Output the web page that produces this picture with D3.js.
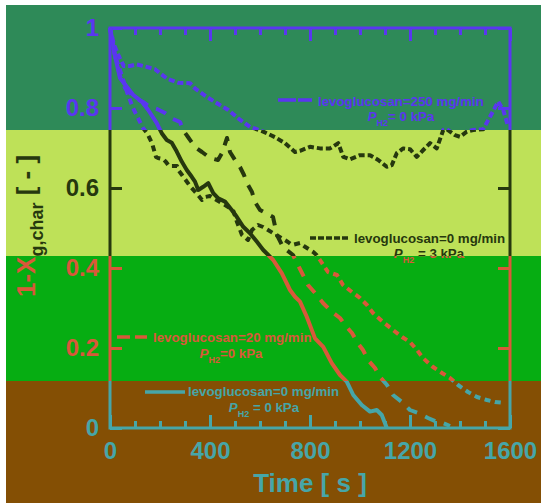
<!DOCTYPE html>
<html>
<head>
<meta charset="utf-8">
<script src="https://cdn.jsdelivr.net/npm/d3@7"></script>
<style>
  body { margin: 0; background: #fff; }
  svg { display: block; font-family: "Liberation Sans", Arial, sans-serif; }
</style>
</head>
<body>
<svg id="chart" width="541" height="503"></svg>
<script>
// 1 - X_g,char versus time [s]
var tLev0 = [0, 20, 40, 67, 93, 127, 153, 187, 207, 227, 247, 267, 287, 307, 327, 340, 353, 373, 393, 413, 433, 460, 487, 507, 533, 560, 587, 613, 633, 653, 687, 720, 740, 760, 787, 820, 853, 887, 920, 947, 973, 1007, 1040, 1067, 1087, 1100, 1107];
var yLev0 = [1, 0.93, 0.875, 0.853, 0.8325, 0.816, 0.795, 0.762, 0.737, 0.72, 0.713, 0.691, 0.666, 0.645, 0.628, 0.616, 0.595, 0.603, 0.612, 0.587, 0.574, 0.566, 0.545, 0.528, 0.503, 0.487, 0.466, 0.445, 0.4325, 0.42, 0.387, 0.345, 0.328, 0.316, 0.278, 0.224, 0.203, 0.162, 0.1325, 0.116, 0.0825, 0.0575, 0.041, 0.045, 0.0325, 0.012, 0];

var tLev20 = [0, 20, 40, 60, 100, 132, 160, 188, 220, 252, 280, 292, 312, 340, 368, 400, 432, 448, 468, 480, 500, 520, 536, 548, 568, 580, 600, 652, 668, 692, 732, 792, 820, 852, 888, 920, 940, 968, 988, 1012, 1032, 1060, 1080, 1108, 1132, 1168, 1200, 1232, 1272, 1308, 1332, 1360];
var yLev20 = [1, 0.93, 0.88, 0.85, 0.825, 0.815, 0.8025, 0.7975, 0.7875, 0.7725, 0.765, 0.745, 0.7275, 0.7025, 0.69, 0.675, 0.67, 0.6875, 0.725, 0.69, 0.67, 0.6525, 0.6325, 0.6125, 0.59, 0.565, 0.545, 0.5275, 0.4825, 0.4525, 0.4325, 0.3575, 0.3375, 0.3125, 0.29, 0.275, 0.2575, 0.2375, 0.215, 0.195, 0.17, 0.15, 0.1275, 0.1075, 0.0825, 0.065, 0.045, 0.0375, 0.025, 0.015, 0.0125, 0.005];

var tH3 = [0, 20, 40, 68, 92, 132, 148, 156, 168, 184, 192, 212, 224, 236, 268, 276, 288, 320, 352, 368, 380, 400, 440, 492, 508, 528, 552, 568, 592, 612, 712, 728, 760, 780, 813, 827, 840, 872, 908, 932, 968, 1000, 1028, 1052, 1092, 1132, 1168, 1200, 1228, 1252, 1292, 1328, 1360, 1392, 1432, 1468, 1508, 1540, 1580];
var yH3 = [1, 0.93, 0.895, 0.84, 0.8, 0.75, 0.7375, 0.7275, 0.7125, 0.6775, 0.675, 0.6725, 0.665, 0.655, 0.655, 0.6425, 0.6325, 0.605, 0.5825, 0.57, 0.5775, 0.58, 0.565, 0.545, 0.515, 0.4825, 0.47, 0.495, 0.5075, 0.5025, 0.465, 0.4575, 0.4625, 0.453, 0.44, 0.432, 0.42, 0.39, 0.3825, 0.3575, 0.34, 0.325, 0.3075, 0.2875, 0.265, 0.245, 0.2275, 0.215, 0.195, 0.175, 0.1525, 0.1375, 0.125, 0.1075, 0.09, 0.0775, 0.07, 0.065, 0.0625];

var tLev250 = [0, 15, 35, 55, 80, 107, 133, 180, 200, 227, 273, 320, 340, 387, 433, 473, 513, 560, 613, 660, 700, 740, 760, 800, 840, 880, 913, 933, 960, 1000, 1040, 1073, 1107, 1127, 1147, 1173, 1200, 1227, 1253, 1280, 1307, 1333, 1347, 1380, 1400, 1427, 1453, 1493, 1520, 1553, 1573, 1593];
var yLev250 = [1, 0.96, 0.93, 0.905, 0.905, 0.909, 0.905, 0.897, 0.887, 0.874, 0.863, 0.862, 0.849, 0.828, 0.81, 0.795, 0.774, 0.753, 0.741, 0.727, 0.712, 0.69, 0.693, 0.703, 0.699, 0.699, 0.712, 0.678, 0.672, 0.682, 0.682, 0.67, 0.653, 0.657, 0.687, 0.699, 0.697, 0.678, 0.695, 0.712, 0.699, 0.745, 0.747, 0.732, 0.728, 0.741, 0.745, 0.747, 0.778, 0.816, 0.795, 0.753];

var xMajor = [0, 400, 800, 1200, 1600];
var yMajor = [0, 0.2, 0.4, 0.6, 0.8, 1];
var legendNames = ["levoglucosan=250 mg/min", "levoglucosan=0 mg/min", "levoglucosan=20 mg/min", "levoglucosan=0 mg/min"];
var legendPressure = ["= 0 kPa", " = 3 kPa", "=0 kPa", " = 0 kPa"];

var margin = {left: 110, top: 28}, W = 400, H = 400;
var x = d3.scaleLinear().domain([0, 1600]).range([0, W]);
var y = d3.scaleLinear().domain([0, 1]).range([H, 0]);

// horizontal colour bands: background and the colour everything takes inside them
var bandEdges = [5, 130, 256, 381, 503];
var bandBg = ["#2e8a58", "#bee158", "#06ad12", "#844f04"];
var bandFg = ["#5a36f0", "#26380e", "#d9583a", "#46a6a8"];

var series = [
  {t: tLev250, v: yLev250, dash: "6,3"},
  {t: tH3, v: yH3, dash: "6,4.5"},
  {t: tLev20, v: yLev20, dash: "11,9"},
  {t: tLev0, v: yLev0, dash: null}
];
var legendPos = [
  {x0: 278, x1: 312, ly: 100, tx: 318, ty: 106, cx: 401, py: 121, dash: "18,2"},
  {x0: 310, x1: 350, ly: 238, tx: 354, ty: 243, cx: 429, py: 258, dash: "6,2"},
  {x0: 117, x1: 147, ly: 337, tx: 153, ty: 342, cx: 231, py: 358, dash: "13,5"},
  {x0: 145, x1: 185, ly: 392, tx: 188, ty: 396, cx: 264, py: 412, dash: null}
];

var svg = d3.select("#chart");
svg.append("rect").attr("width", 541).attr("height", 503).attr("fill", "#fff");
var defs = svg.append("defs");

bandBg.forEach(function (c, i) {
  svg.append("rect")
      .attr("x", 6).attr("y", bandEdges[i])
      .attr("width", 535).attr("height", bandEdges[i + 1] - bandEdges[i])
      .attr("fill", c);
  defs.append("clipPath").attr("id", "band" + i)
    .append("rect")
      .attr("x", 0).attr("y", i === 0 ? 0 : bandEdges[i])
      .attr("width", 541).attr("height", bandEdges[i + 1] - (i === 0 ? 0 : bandEdges[i]));
});

var line = d3.line()
    .x(function (d) { return x(d[0]); })
    .y(function (d) { return y(d[1]); });

function styleAxis(sel) {
  sel.select(".domain").remove();
  sel.selectAll("line").attr("stroke-width", 3);
  sel.selectAll("text")
      .attr("font-size", 24)
      .attr("font-weight", "bold")
      .attr("font-family", "Liberation Sans, Arial, sans-serif");
}

function drawLayer(layer) {
  var g = layer.append("g").attr("transform", "translate(" + margin.left + "," + margin.top + ")");

  var xMinor = d3.range(100, 1600, 100).filter(function (v) { return v % 400 !== 0; });
  g.append("g").attr("transform", "translate(0," + H + ")")
      .call(d3.axisBottom(x).tickValues(xMinor).tickSize(-7).tickSizeOuter(0).tickFormat(""))
      .call(styleAxis);
  g.append("g").attr("transform", "translate(0," + H + ")")
      .call(d3.axisBottom(x).tickValues(xMajor).tickSize(-13).tickSizeOuter(0).tickPadding(14)
        .tickFormat(d3.format("d")))
      .call(styleAxis);
  g.append("g")
      .call(d3.axisTop(x).tickValues(xMinor).tickSize(-7).tickSizeOuter(0).tickFormat(""))
      .call(styleAxis);
  g.append("g")
      .call(d3.axisTop(x).tickValues(xMajor).tickSize(-13).tickSizeOuter(0).tickFormat(""))
      .call(styleAxis);
  g.append("g")
      .call(d3.axisLeft(y).tickValues(yMajor).tickSize(-12).tickSizeOuter(0).tickPadding(11)
        .tickFormat(function (d) { return (d === 0 || d === 1) ? d : d.toFixed(1); }))
      .call(styleAxis);
  g.append("g").attr("transform", "translate(" + W + ",0)")
      .call(d3.axisRight(y).tickValues(yMajor).tickSize(-12).tickSizeOuter(0).tickFormat(""))
      .call(styleAxis);

  g.append("rect")
      .attr("width", W).attr("height", H)
      .attr("fill", "none")
      .attr("stroke", "currentColor")
      .attr("stroke-width", 3);

  series.forEach(function (s) {
    g.append("path")
        .datum(d3.zip(s.t, s.v))
        .attr("d", line)
        .attr("fill", "none")
        .attr("stroke", "currentColor")
        .attr("stroke-width", 4)
        .attr("stroke-linejoin", "round")
        .attr("stroke-dasharray", s.dash);
  });

  legendPos.forEach(function (p, i) {
    layer.append("line")
        .attr("x1", p.x0).attr("x2", p.x1)
        .attr("y1", p.ly).attr("y2", p.ly)
        .attr("stroke", "currentColor")
        .attr("stroke-width", 3.5)
        .attr("stroke-dasharray", p.dash);
    layer.append("text")
        .attr("x", p.tx).attr("y", p.ty)
        .attr("fill", "currentColor")
        .attr("font-size", 13.3)
        .attr("font-weight", "bold")
        .text(legendNames[i]);
    var t2 = layer.append("text")
        .attr("x", p.cx).attr("y", p.py)
        .attr("text-anchor", "middle")
        .attr("fill", "currentColor")
        .attr("font-size", 13.3)
        .attr("font-weight", "bold");
    t2.append("tspan").attr("font-style", "italic").text("P");
    t2.append("tspan").attr("font-size", 9).attr("dy", 5).text("H2");
    t2.append("tspan").attr("dy", -5).text(legendPressure[i]);
  });

  var yt = layer.append("text")
      .attr("transform", "translate(35,297) rotate(-90)")
      .attr("fill", "currentColor")
      .attr("font-size", 26)
      .attr("font-weight", "bold");
  yt.append("tspan").text("1-X");
  yt.append("tspan").attr("font-size", 18).attr("dy", 8).text("g,char");
  yt.append("tspan").attr("dy", -8).text(" [ - ]");

  layer.append("text")
      .attr("x", margin.left + x(800)).attr("y", 492)
      .attr("text-anchor", "middle")
      .attr("fill", "currentColor")
      .attr("font-size", 26)
      .attr("font-weight", "bold")
      .text("Time [ s ]");
}

bandFg.forEach(function (c, i) {
  var layer = svg.append("g")
      .attr("clip-path", "url(#band" + i + ")")
      .attr("color", c);
  drawLayer(layer);
});
</script>
</body>
</html>
